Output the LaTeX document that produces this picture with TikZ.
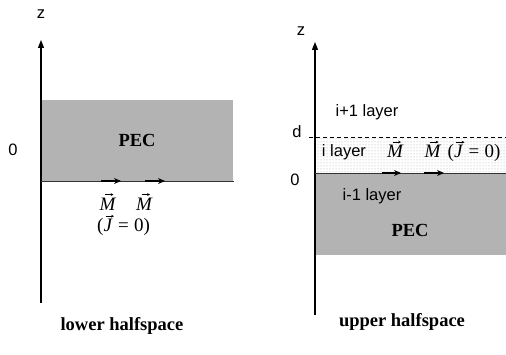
\documentclass[tikz,border=0pt]{standalone}
\usepackage{fontspec}
\setmainfont{Liberation Serif}
\newfontfamily\arialf{Liberation Sans}
\usetikzlibrary{arrows.meta,patterns}
\definecolor{pecgray}{HTML}{B3B3B3}
\tikzset{
  axis/.style={line width=1.3pt,-{Triangle[length=8pt,width=6pt]}},
  surf/.style={line width=0.8pt,draw=black!80},
  mvec/.style={line width=1.2pt,-{Stealth[length=7pt,width=6pt]}},
  vecacc/.style={line width=0.5pt,-{Stealth[length=2.8pt,width=2.8pt]}},
  lab/.style={font=\arialf\fontsize{16.5}{18}\selectfont,inner sep=0pt},
  bold/.style={font=\bfseries\fontsize{18.5}{20}\selectfont,inner sep=0pt},
  mlab/.style={font=\itshape\fontsize{19}{21}\selectfont,inner sep=0pt},
  jlab/.style={font=\fontsize{19}{21}\selectfont,inner sep=0pt,anchor=west}
}
\newcommand\myJz{(\textit{J}\hspace{0.28em}=\hspace{0.28em}0)}
\begin{document}
\begin{tikzpicture}[x=1pt,y=-1pt]
\useasboundingbox (0,0) rectangle (506,355);
% ---- left: lower halfspace
\fill[pecgray] (41,100) rectangle (233,181);
\coordinate (lb) at (41,303);
\coordinate (lt) at (41,40);
\draw[axis] (lb) -- (lt);
\coordinate (ls1) at (41,181);
\coordinate (ls2) at (234,181);
\draw[surf] (ls1) -- (ls2);
\node[lab] (lz) at (41,14) {z};
\node[lab] (l0) at (13,150) {0};
\node[bold] (lpec) at (137,140) {PEC};
\coordinate (la1) at (101,181); \coordinate (la2) at (121,181);
\coordinate (lb1) at (145,181); \coordinate (lb2) at (165,181);
\draw[mvec] (la1) -- (la2);
\draw[mvec] (lb1) -- (lb2);
\node[mlab] (lm1) at (107.5,204) {M};
\node[mlab] (lm2) at (144,204) {M};
\node[jlab] (lj) at (97,227) {\myJz};
\draw[vecacc] ([xshift=-2.5pt,yshift=3pt]lm1.north) -- ([xshift=6pt,yshift=3pt]lm1.north);
\draw[vecacc] ([xshift=-2.5pt,yshift=3pt]lm2.north) -- ([xshift=6pt,yshift=3pt]lm2.north);
\draw[vecacc] ([xshift=8.5pt,yshift=2pt]lj.north west) -- ([xshift=17pt,yshift=2pt]lj.north west);
\node[bold] (lcap) at (122,326) {lower halfspace};
% ---- right: upper halfspace
\fill[pattern=dots,pattern color=black!35] (315,137) rectangle (506,173);
\fill[pecgray] (315,173) rectangle (506,255);
\coordinate (rb) at (315,315);
\coordinate (rt) at (315,42);
\draw[axis] (rb) -- (rt);
\coordinate (rd1) at (309,137); \coordinate (rd2) at (506,137);
\draw[line width=0.9pt,dash pattern=on 4pt off 3pt] (rd1) -- (rd2);
\coordinate (rs1) at (315,173); \coordinate (rs2) at (506,173);
\draw[surf] (rs1) -- (rs2);
\node[lab] (rz) at (301,31) {z};
\node[lab] (rdl) at (297,132) {d};
\node[lab] (r0) at (295,180) {0};
\node[lab] (rl1) at (367,112) {i+1 layer};
\node[lab] (rl2) at (344,152) {i layer};
\node[lab] (rl3) at (372,196) {i-1 layer};
\node[bold] (rpec) at (410,230) {PEC};
\coordinate (ra1) at (382,173); \coordinate (ra2) at (401,173);
\coordinate (rb1) at (424,173); \coordinate (rb2) at (444,173);
\draw[mvec] (ra1) -- (ra2);
\draw[mvec] (rb1) -- (rb2);
\node[mlab] (rm1) at (395,151.5) {M};
\node[mlab] (rm2) at (432.5,151.5) {M};
\node[jlab] (rj) at (447.5,153) {\myJz};
\draw[vecacc] ([xshift=-2.5pt,yshift=3pt]rm1.north) -- ([xshift=6pt,yshift=3pt]rm1.north);
\draw[vecacc] ([xshift=-2.5pt,yshift=3pt]rm2.north) -- ([xshift=6pt,yshift=3pt]rm2.north);
\draw[vecacc] ([xshift=8.5pt,yshift=2pt]rj.north west) -- ([xshift=17pt,yshift=2pt]rj.north west);
\node[bold] (rcap) at (402,322) {upper halfspace};
\end{tikzpicture}
\end{document}
